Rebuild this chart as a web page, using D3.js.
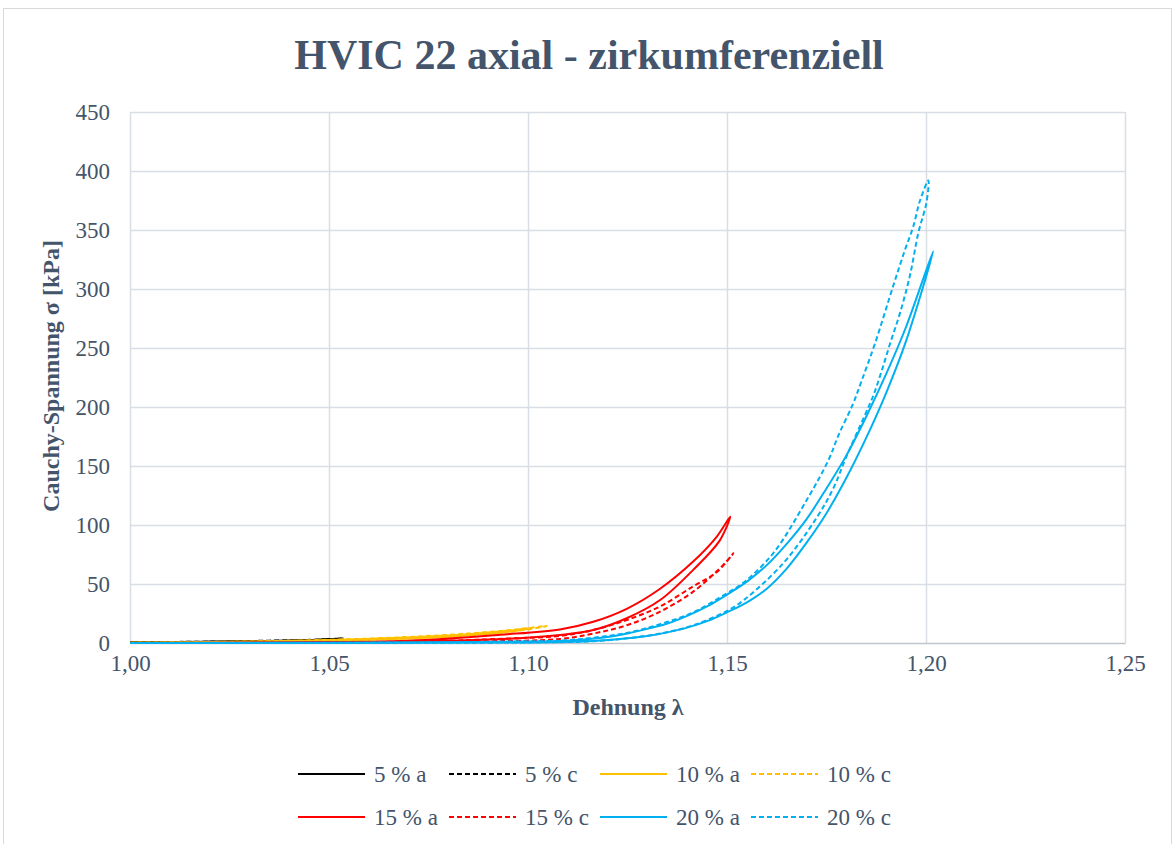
<!DOCTYPE html>
<html>
<head>
<meta charset="utf-8">
<script src="https://cdn.jsdelivr.net/npm/d3@7"></script>
<style>
  body { margin: 0; background: #fff; }
  svg { display: block; }
  text { font-family: "Times New Roman", "Liberation Serif", serif; fill: #44546a; }
</style>
</head>
<body>
<svg id="chart" width="1176" height="844"></svg>
<script>
// Axis ticks
const xTicks = [1.00, 1.05, 1.10, 1.15, 1.20, 1.25];
const yTicks = [0, 50, 100, 150, 200, 250, 300, 350, 400, 450];

// Series labels, colours and line style
const seriesNames = ["5 % a", "5 % c", "10 % a", "10 % c", "15 % a", "15 % c", "20 % a", "20 % c"];
const seriesColors = ["#000000", "#000000", "#ffc000", "#ffc000", "#ff0000", "#ff0000", "#00b0f0", "#00b0f0"];
const seriesDashed = [false, true, false, true, false, true, false, true];

// Stretch λ / Cauchy stress σ [kPa]: loading branch (rising) and unloading branch (falling)
const load5a   = [[1.000, 0.5], [1.020, 1.0], [1.035, 1.8], [1.045, 2.5], [1.051, 3.4]];
const unload5a = [[1.051, 3.4], [1.040, 1.8], [1.020, 0.9], [1.000, 0.3]];
const load5c   = [[1.000, 0.6], [1.020, 1.2], [1.035, 2.0], [1.046, 2.8], [1.0534, 4.0]];
const unload5c = [[1.0534, 4.0], [1.042, 2.0], [1.020, 1.0], [1.000, 0.4]];

const load10a   = [[1.000, 0.3], [1.030, 1.2], [1.050, 2.5], [1.068, 4.5], [1.085, 7.5], [1.095, 10.3], [1.1005, 12.5]];
const unload10a = [[1.1005, 12.5], [1.094, 9.0], [1.083, 6.0], [1.068, 3.6], [1.050, 1.8], [1.030, 0.8], [1.000, 0.2]];
const load10c   = [[1.000, 0.3], [1.030, 1.3], [1.050, 2.7], [1.068, 4.8], [1.085, 8.0], [1.097, 11.5], [1.1047, 14.4]];
const unload10c = [[1.1047, 14.4], [1.098, 10.5], [1.086, 7.0], [1.070, 4.0], [1.050, 2.0], [1.030, 0.9], [1.000, 0.2]];

const load15a   = [[1.000, 0.0], [1.040, 0.6], [1.070, 2.0], [1.093, 7.0], [1.108, 11.5], [1.1164, 18], [1.1248, 29], [1.1332, 46], [1.1415, 69], [1.1474, 90], [1.1508, 107]];
const unload15a = [[1.1508, 107], [1.1482, 87], [1.1415, 62], [1.1332, 36.4], [1.1248, 21], [1.1164, 11], [1.108, 6.8], [1.095, 3.5], [1.080, 2.0], [1.050, 0.5], [1.000, 0.0]];
const load15c   = [[1.000, 0.0], [1.050, 0.5], [1.080, 2.0], [1.095, 3.8], [1.108, 6.0], [1.1164, 11], [1.1248, 19.5], [1.1332, 31], [1.1415, 48], [1.1474, 60], [1.1516, 76]];
const unload15c = [[1.1516, 76], [1.149, 66], [1.1415, 43.5], [1.1332, 26.6], [1.1248, 15], [1.1164, 8], [1.108, 3.4], [1.090, 1.5], [1.050, 0.3], [1.000, 0.0]];

const load20a   = [[1.000, 0.0], [1.050, 0.3], [1.080, 0.7], [1.100, 1.2], [1.110, 2.0], [1.115, 3.2], [1.120, 5], [1.125, 8], [1.130, 12], [1.135, 16.5], [1.140, 23], [1.145, 31], [1.150, 41], [1.155, 52], [1.160, 66], [1.165, 84], [1.170, 105], [1.175, 131], [1.180, 159], [1.185, 192], [1.190, 228], [1.195, 268], [1.2018, 332]];
const unload20a = [[1.2018, 332], [1.195, 256], [1.190, 212], [1.185, 174], [1.180, 140], [1.175, 110], [1.170, 85], [1.165, 63], [1.160, 46], [1.155, 34.5], [1.150, 26], [1.145, 18.5], [1.140, 13], [1.135, 9], [1.130, 6], [1.125, 4], [1.120, 2.5], [1.115, 1.5], [1.100, 0.5], [1.060, 0.1], [1.000, 0.0]];
const load20c   = [[1.000, 0.0], [1.060, 0.3], [1.090, 1.0], [1.108, 2.0], [1.1164, 4.5], [1.1248, 8.5], [1.1332, 16], [1.1415, 26], [1.1499, 42], [1.1541, 51], [1.1616, 76], [1.170, 121], [1.1755, 155], [1.178, 176], [1.1817, 203], [1.1838, 222], [1.1872, 254], [1.1918, 303], [1.1947, 333], [1.1968, 353], [1.1985, 375], [1.2006, 392]];
const unload20c = [[1.2006, 392], [1.2001, 373], [1.1981, 348], [1.196, 312], [1.1935, 280], [1.191, 254], [1.1889, 231], [1.1868, 210], [1.1845, 192], [1.180, 158], [1.1767, 131], [1.1725, 106], [1.1641, 67.5], [1.1541, 36], [1.1499, 27], [1.1415, 15], [1.1332, 8], [1.1248, 4], [1.1164, 1.5], [1.100, 0.5], [1.000, 0.0]];

const seriesLoad   = [load5a, load5c, load10a, load10c, load15a, load15c, load20a, load20c];
const seriesUnload = [unload5a, unload5c, unload10a, unload10c, unload15a, unload15c, unload20a, unload20c];

const svg = d3.select("#chart");
const W = 1176, H = 844;
const plot = { left: 130, right: 1125, top: 112, bottom: 643 };
const serif = '"Times New Roman", "Liberation Serif", serif';

// Outer chart frame
svg.append("rect")
  .attr("x", 3.5).attr("y", 8.5)
  .attr("width", 1168).attr("height", H)
  .attr("fill", "#fff").attr("stroke", "#d9d9d9").attr("stroke-width", 1);

const x = d3.scaleLinear().domain([1.0, 1.25]).range([plot.left, plot.right]);
const y = d3.scaleLinear().domain([0, 450]).range([plot.bottom, plot.top]);

const de = d3.formatLocale({ decimal: ",", thousands: ".", grouping: [3], currency: ["", " €"] });
const fmtX = de.format(".2f");

// Gridlines
const grid = svg.append("g").attr("class", "grid");
grid.selectAll("line.h").data(yTicks.filter(v => v > 0)).join("line")
  .attr("class", "h")
  .attr("x1", plot.left).attr("x2", plot.right)
  .attr("y1", d => Math.round(y(d)) + 0.5).attr("y2", d => Math.round(y(d)) + 0.5)
  .attr("stroke", "#d9dde4").attr("stroke-width", 1.5);
grid.selectAll("line.v").data(xTicks).join("line")
  .attr("class", "v")
  .attr("y1", plot.top).attr("y2", plot.bottom)
  .attr("x1", d => Math.round(x(d)) + 0.5).attr("x2", d => Math.round(x(d)) + 0.5)
  .attr("stroke", "#d9dde4").attr("stroke-width", 1.5);

// X axis
const xAxis = svg.append("g")
  .attr("transform", `translate(0,${plot.bottom})`)
  .call(d3.axisBottom(x).tickValues(xTicks).tickFormat(fmtX).tickSize(0).tickPadding(12));
xAxis.select(".domain").attr("stroke", "#c0c4cc").attr("stroke-width", 1.5);
xAxis.selectAll("text").style("font-size", "23px").attr("fill", "#44546a").style("font-family", serif);

// Y axis
const yAxis = svg.append("g")
  .attr("transform", `translate(${plot.left},0)`)
  .call(d3.axisLeft(y).tickValues(yTicks).tickSize(0).tickPadding(20));
yAxis.select(".domain").remove();
yAxis.selectAll("text").style("font-size", "23px").attr("fill", "#44546a").style("font-family", serif);

// Data curves
const line = d3.line()
  .x(d => x(d[0]))
  .y(d => y(d[1]))
  .curve(d3.curveCatmullRom.alpha(0.5));

const curves = svg.append("g").attr("class", "curves");
seriesNames.forEach((name, i) => {
  const pts = seriesLoad[i].concat(seriesUnload[i].slice(1));
  curves.append("path")
    .datum(pts)
    .attr("d", line)
    .attr("fill", "none")
    .attr("stroke", seriesColors[i])
    .attr("stroke-width", 2)
    .attr("stroke-linejoin", "round")
    .attr("stroke-dasharray", seriesDashed[i] ? "5,3" : null);
});

// Title
svg.append("text")
  .attr("x", 589).attr("y", 69)
  .attr("text-anchor", "middle")
  .style("font-size", "42px").style("font-weight", "bold")
  .text("HVIC 22 axial - zirkumferenziell");

// Axis titles
svg.append("text")
  .attr("x", 628).attr("y", 715)
  .attr("text-anchor", "middle")
  .style("font-size", "24px").style("font-weight", "bold")
  .text("Dehnung λ");

svg.append("text")
  .attr("transform", "translate(59,376) rotate(-90)")
  .attr("text-anchor", "middle")
  .style("font-size", "24px").style("font-weight", "bold")
  .text("Cauchy-Spannung σ [kPa]");

// Legend: 4 columns, 2 rows
const legendX = [298, 449, 600, 751];
const legendY = [774, 817];
const legend = svg.append("g").attr("class", "legend");
seriesNames.forEach((name, i) => {
  const lx = legendX[i % 4], ly = legendY[Math.floor(i / 4)];
  legend.append("line")
    .attr("x1", lx).attr("x2", lx + 67)
    .attr("y1", ly).attr("y2", ly)
    .attr("stroke", seriesColors[i]).attr("stroke-width", 2)
    .attr("stroke-dasharray", seriesDashed[i] ? "5,3" : null);
  legend.append("text")
    .attr("x", lx + 76).attr("y", ly + 8)
    .style("font-size", "23px")
    .text(name);
});
</script>
</body>
</html>
